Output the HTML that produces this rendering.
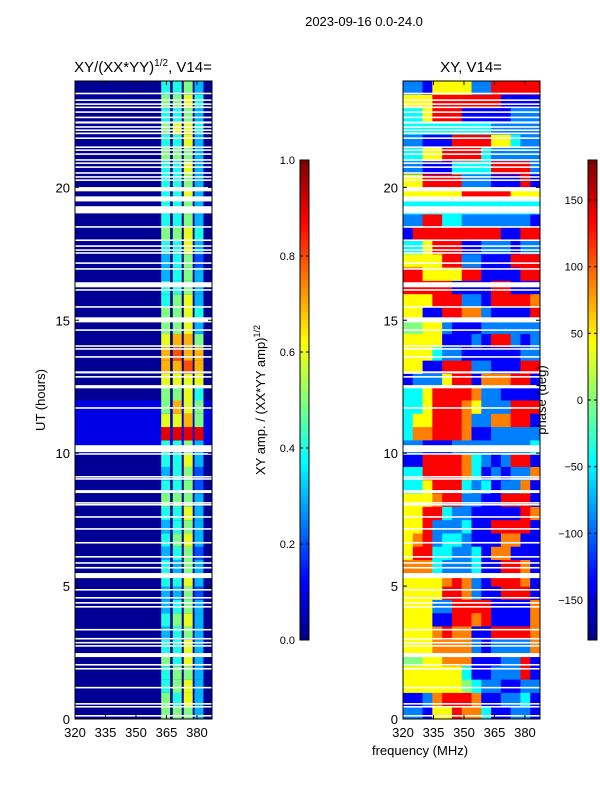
<!DOCTYPE html>
<html><head><meta charset="utf-8"><style>
html,body{margin:0;padding:0;background:#fff;}
svg{display:block;font-family:"Liberation Sans","DejaVu Sans",sans-serif;}
</style></head><body>
<svg id="fig" width="600" height="800" viewBox="0 0 600 800" xmlns="http://www.w3.org/2000/svg">
<rect x="0" y="0" width="600" height="800" fill="#fff"/>
<text x="364" y="26" font-size="13" text-anchor="middle">2023-09-16 0.0-24.0</text>
<text x="143" y="72" font-size="15" text-anchor="middle">XY/(XX*YY)<tspan font-size="10" dy="-6">1/2</tspan><tspan dy="6">, V14=</tspan></text>
<text x="471" y="72" font-size="15" text-anchor="middle">XY, V14=</text>
<text x="420" y="755" font-size="13" text-anchor="middle">frequency (MHz)</text>
<text transform="translate(45,400) rotate(-90)" font-size="13" text-anchor="middle">UT (hours)</text>
<text transform="translate(265,400) rotate(-90)" font-size="13" text-anchor="middle">XY amp. / (XX*YY amp)<tspan font-size="9" dy="-5">1/2</tspan></text>
<g id="left"></g>
<g id="right"></g>
<g id="cb1"></g>
<g id="cb2"></g>
<g id="axes"></g>
<text transform="translate(546,400) rotate(-90)" font-size="13" text-anchor="middle">phase (deg)</text>
</svg>
<script>
// ---- data ----
const stripeFreqs = [364.6, 370.3, 375.7, 381.0];
const leftBg = "000000000000000000002222000000000000000000000000";
const leftRows = ["5553","5463","4563","4553","5463","4463","3453","4563","3453","3352","4463","4353","3452","4563","3453","4463","5553","4452","3452","4463","4453","9999","6675","5765","5564","6666","7787","7877","6775","5563","5564","4563","4453","3453","3452","4463","5564","4453","4453","4463","4453","4463","5553","4463","5664","4453","5564","4453"];
const phaseRows = ["22155766311221","11267776112231","55555543221122","55555531122271","44556661112271","55566662122226","55567661177776","55511776711116","55522777711116","55557762117771","55556762177761","66632223117761","57733223166111","56723321116611","55722231177771","55773221111176","55567722117771","33577732312261","33777763121226","11777763212771","22111222222223","36677761122222","35577762266771","33577765222777","33577776221111","12225771666771","55117772211177","55532211111122","55551112177212","44552111222222","55117766211117","55577722177776","77777111177111","77555577111177","55557722111777","33577711222122","17777777771177","22773322222221","33333333333333","55555577777555","55777722211171","22111333377772","33557777322222","22111777755322","33333333322222","33577711111222","55577777771111","22155552277777"];
const gaps = [[23.5,0.06],[23.25,0.06],[23.1,0.06],[22.98,0.06],[22.8,0.06],[22.6,0.06],[22.4,0.08],[22.24,0.06],[22.12,0.06],[22.0,0.06],[21.82,0.06],[21.48,0.06],[21.37,0.06],[21.22,0.06],[21.0,0.06],[20.88,0.06],[20.73,0.06],[20.51,0.06],[20.36,0.06],[20.24,0.06],[19.85,0.16],[19.47,0.19],[19.02,0.27],[18.48,0.06],[17.98,0.06],[17.76,0.06],[17.61,0.06],[17.5,0.06],[17.12,0.06],[16.9,0.06],[16.24,0.19],[16.11,0.06],[15.47,0.06],[14.92,0.19],[14.6,0.06],[14.0,0.06],[13.89,0.06],[13.59,0.06],[13.0,0.08],[12.84,0.06],[12.44,0.12],[11.67,0.06],[10.04,0.26],[9.94,0.06],[9.08,0.06],[9.0,0.06],[8.5,0.11],[8.1,0.06],[8.03,0.06],[7.57,0.06],[7.12,0.06],[6.6,0.06],[6.07,0.06],[5.84,0.06],[5.66,0.06],[5.3,0.19],[4.83,0.06],[4.53,0.06],[4.34,0.06],[4.19,0.06],[3.33,0.06],[2.99,0.06],[2.84,0.06],[2.72,0.06],[2.33,0.15],[2.01,0.06],[1.86,0.06],[1.15,0.06],[0.54,0.06],[0.43,0.06],[0.09,0.06]];
const xTicks = [320,335,350,365,380];
const yTicks = [0,5,10,15,20];
const ampTicks = [0.0,0.2,0.4,0.6,0.8,1.0];
const phaseTicks = [-150,-100,-50,0,50,100,150];
// ---- scales ----
const F0=320, F1=387.4, H0=0, H1=24;
const panels=[75,403], PW=137, PT=81, PB=719;
function xs(p,f){return panels[p]+(f-F0)/(F1-F0)*PW;}
function ys(h){return PB-(h-H0)/(H1-H0)*(PB-PT);}
function jet(v){v=Math.max(0,Math.min(1,v));
 const r=Math.max(0,Math.min(1,1.5-Math.abs(4*v-3))),g=Math.max(0,Math.min(1,1.5-Math.abs(4*v-2))),b=Math.max(0,Math.min(1,1.5-Math.abs(4*v-1)));
 return `rgb(${Math.round(r*255)},${Math.round(g*255)},${Math.round(b*255)})`;}
const NS="http://www.w3.org/2000/svg";
function rect(par,x,y,w,h,fill){const r=document.createElementNS(NS,"rect");r.setAttribute("x",x);r.setAttribute("y",y);r.setAttribute("width",w);r.setAttribute("height",h);r.setAttribute("fill",fill);par.appendChild(r);return r;}
function line(par,x1,y1,x2,y2){const l=document.createElementNS(NS,"line");l.setAttribute("x1",x1);l.setAttribute("y1",y1);l.setAttribute("x2",x2);l.setAttribute("y2",y2);l.setAttribute("stroke","#000");l.setAttribute("stroke-width","1");par.appendChild(l);return l;}
function text(par,x,y,s,anchor,size){const t=document.createElementNS(NS,"text");t.setAttribute("x",x);t.setAttribute("y",y);t.setAttribute("text-anchor",anchor);t.setAttribute("font-size",size);t.textContent=s;par.appendChild(t);return t;}
const nR=leftRows.length, dh=(H1-H0)/nR;
// left panel
const L=document.getElementById("left");
for(let i=0;i<nR;i++){
 const y0=ys(H0+(i+1)*dh), y1=ys(H0+i*dh);
 const bg=rect(L,xs(0,F0),y0,PW,y1-y0+0.5,jet(0.02+(+leftBg[i])/25));
 
 
 for(let k=0;k<stripeFreqs.length;k++){
  const v=+leftRows[i][k]/10;
  const c=rect(L,xs(0,stripeFreqs[k]-2.2),y0,xs(0,stripeFreqs[k]+2.2)-xs(0,stripeFreqs[k]-2.2),y1-y0+0.5,jet(v));
  
  
 }
}
// right panel
const R=document.getElementById("right");
const nC=phaseRows[0].length, df=(F1-F0)/nC;
for(let i=0;i<phaseRows.length;i++){
 const y0=ys(H0+(i+1)*dh), y1=ys(H0+i*dh);
 for(let k=0;k<nC;k++){
  const ph=-180+(+phaseRows[i][k])*45;
  const c=rect(R,xs(1,F0+k*df),y0,xs(1,F0+(k+1)*df)-xs(1,F0+k*df)+0.5,y1-y0+0.5,jet((ph+180)/360));
  
  
 }
}
// gaps
for(const p of [0,1]){
 const par=p?R:L;
 for(const g of gaps){
  const y0=ys(g[0]+g[1]), y1=ys(g[0]);
  const r=rect(par,panels[p],y0,PW,Math.max(1.4,y1-y0),"#fff");
  
  
 }
}
// colorbars
function colorbar(id,x,ticks,vmin,vmax,fmt){
 const g=document.getElementById(id);
 const top=160,bot=640,n=120;
 for(let i=0;i<n;i++){const y=top+(bot-top)*i/n;rect(g,x,y,9,(bot-top)/n+0.5,jet(1-i/n));}
 const fr=rect(g,x,top,9,bot-top,"none");fr.setAttribute("stroke","#000");
 for(const t of ticks){const y=bot-(t-vmin)/(vmax-vmin)*(bot-top);
  line(g,x,y,x+3,y);line(g,x+6,y,x+9,y);
  const tl=text(g,x-5,y+4,fmt(t),"end",11);
  
  }
}
colorbar("cb1",300,ampTicks,0,1,t=>t.toFixed(1));
colorbar("cb2",588,phaseTicks,-180,180,t=>t<0?"\u2212"+(-t):String(t));
// axes
const A=document.getElementById("axes");
for(const p of [0,1]){
 const fr=rect(A,panels[p],PT,PW,PB-PT,"none");fr.setAttribute("stroke","#000");
 
 
 for(const t of xTicks){const x=xs(p,t);line(A,x,PB,x,PB-4);line(A,x,PT,x,PT+4);
  const tl=text(A,x,737,String(t),"middle",13);
  
  }
 for(const t of yTicks){const y=ys(t);line(A,panels[p],y,panels[p]+4,y);line(A,panels[p]+PW,y,panels[p]+PW-4,y);
  const tl=text(A,panels[p]-5,y+5,String(t),"end",13);
  
  }
}
</script>
</body></html>
